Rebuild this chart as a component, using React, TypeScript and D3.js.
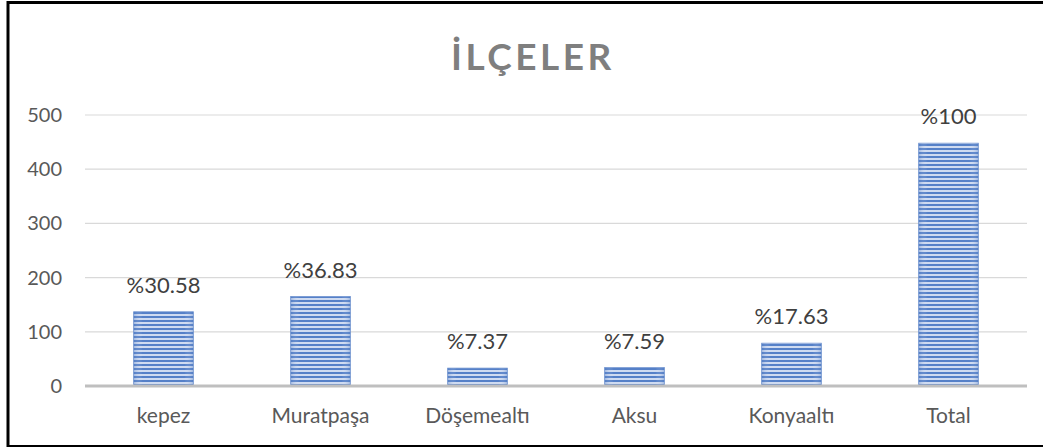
import React from "react";
import * as d3 from "d3";

const categories = ["kepez", "Muratpaşa", "Döşemealtı", "Aksu", "Konyaaltı", "Total"];
const counts = [137, 165, 33, 34, 79, 448];
const percentLabels = ["%30.58", "%36.83", "%7.37", "%7.59", "%17.63", "%100"];
const yTicks = [0, 100, 200, 300, 400, 500];

const W = 1043;
const H = 448;
const font = "Lato, 'Open Sans', sans-serif";

export default function App() {
  const x = d3.scaleBand().domain(categories).range([85, 1027]).paddingInner(0.62).paddingOuter(0.31);
  const y = d3.scaleLinear().domain([0, 500]).range([386, 115]);

  return (
    <div style={{ position: "absolute", left: 0, top: 0 }}>
      <svg width={W} height={H} style={{ display: "block", background: "#fff" }}>
        <defs>
          <pattern id="stripes" width="8" height="4" patternUnits="userSpaceOnUse">
            <rect width="8" height="4" fill="#cfdbf1" />
            <rect y="0" width="8" height="2" fill="#5580c8" />
          </pattern>
          <linearGradient id="edge" x1="0" x2="1" y1="0" y2="0">
            <stop offset="0" stopColor="#4a76c0" stopOpacity="0.35" />
            <stop offset="0.15" stopColor="#fff" stopOpacity="0" />
            <stop offset="0.85" stopColor="#fff" stopOpacity="0" />
            <stop offset="1" stopColor="#4a76c0" stopOpacity="0.35" />
          </linearGradient>
        </defs>

        {/* frame */}
        <line x1={8} x2={8} y1={1} y2={447} stroke="#000" strokeWidth={3} />
        <line x1={7} x2={W} y1={2.5} y2={2.5} stroke="#000" strokeWidth={3} />
        <line x1={7} x2={W} y1={446} y2={446} stroke="#000" strokeWidth={2} />

        <text
          x={533}
          y={70}
          textAnchor="middle"
          fontFamily={font}
          fontWeight="bold"
          fontSize={37}
          letterSpacing={3.5}
          fill="#7f7f7f"
        >
          İLÇELER
        </text>

        {yTicks.map((t) => (
          <g key={t}>
            {t > 0 && <line x1={85} x2={1027} y1={y(t)} y2={y(t)} stroke="#d9d9d9" strokeWidth={1.2} />}
            <text
              x={62}
              y={y(t)}
              dy="0.35em"
              textAnchor="end"
              fontFamily={font}
              fontSize={20}
              fill="#595959"
            >
              {t}
            </text>
          </g>
        ))}

        {categories.map((c, i) => {
          const bx = x(c)!;
          const by = y(counts[i]);
          const bh = y(0) - by;
          return (
            <g key={c}>
              <rect x={bx} y={by} width={x.bandwidth()} height={bh} fill="url(#stripes)" stroke="#6f93d0" strokeWidth={0.8} />
              <rect x={bx} y={by} width={x.bandwidth()} height={bh} fill="url(#edge)" />
              <text
                x={bx + x.bandwidth() / 2}
                y={by - 19}
                textAnchor="middle"
                fontFamily={font}
                fontSize={22}
                fill="#404040"
              >
                {percentLabels[i]}
              </text>
              <text
                x={bx + x.bandwidth() / 2}
                y={423}
                textAnchor="middle"
                fontFamily={font}
                fontSize={21}
                fill="#595959"
              >
                {c}
              </text>
            </g>
          );
        })}

        <line x1={85} x2={1027} y1={y(0)} y2={y(0)} stroke="#bfbfbf" strokeWidth={3} />
      </svg>
    </div>
  );
}
